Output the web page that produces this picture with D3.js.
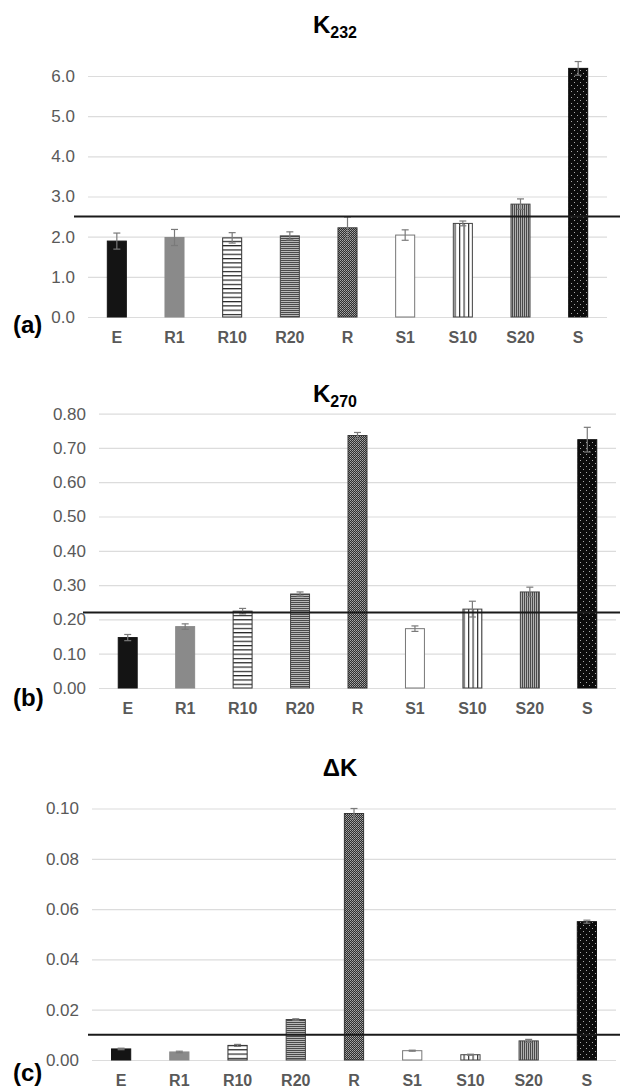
<!DOCTYPE html>
<html>
<head>
<meta charset="utf-8">
<script src="https://cdn.jsdelivr.net/npm/d3@7"></script>
<style>
  body { margin: 0; background: #fff; }
  svg { display: block; font-family: "Liberation Sans", Arial, sans-serif; }
</style>
</head>
<body>
<div id="chart"></div>
<script>
const categories = ["E", "R1", "R10", "R20", "R", "S1", "S10", "S20", "S"];

const k232 = [1.89, 1.98, 1.97, 2.02, 2.22, 2.04, 2.33, 2.81, 6.19];
const k232Err = [0.20, 0.20, 0.13, 0.10, 0.27, 0.13, 0.06, 0.13, 0.17];

const k270 = [0.147, 0.179, 0.224, 0.274, 0.736, 0.173, 0.230, 0.280, 0.724];
const k270Err = [0.009, 0.008, 0.008, 0.006, 0.009, 0.008, 0.023, 0.014, 0.036];

const deltaK = [0.0044, 0.0032, 0.0058, 0.0161, 0.098, 0.0037, 0.0021, 0.0076, 0.055];
const deltaKErr = [0.0003, 0.0003, 0.0004, 0.0003, 0.002, 0.0002, 0.0002, 0.0006, 0.0006];

const k232Ticks = [0, 1, 2, 3, 4, 5, 6];
const k270Ticks = [0, 0.1, 0.2, 0.3, 0.4, 0.5, 0.6, 0.7, 0.8];
const deltaKTicks = [0, 0.02, 0.04, 0.06, 0.08, 0.10];

const limits = [2.5, 0.22, 0.01];

// fill per category (pattern ids defined below)
const fills = ["#141414", "#8a8a8a", "url(#hWide)", "url(#hFine)", "url(#checker)",
    "#ffffff", "url(#vWide)", "url(#vFine)", "url(#dots)"];
const strokes = ["#141414", "#8a8a8a", "#333", "#444", "#333", "#777", "#444", "#444", "#111"];

const svg = d3.select("#chart").append("svg")
    .attr("width", 620)
    .attr("height", 1088);

const defs = svg.append("defs");

const hWide = defs.append("pattern").attr("id", "hWide").attr("patternUnits", "userSpaceOnUse")
    .attr("width", 4).attr("height", 4.3);
hWide.append("rect").attr("width", 4).attr("height", 4.3).attr("fill", "#fff");
hWide.append("rect").attr("y", 0).attr("width", 4).attr("height", 1.2).attr("fill", "#222");

const hFine = defs.append("pattern").attr("id", "hFine").attr("patternUnits", "userSpaceOnUse")
    .attr("width", 4).attr("height", 2);
hFine.append("rect").attr("width", 4).attr("height", 2).attr("fill", "#b8b8b8");
hFine.append("rect").attr("width", 4).attr("height", 1).attr("fill", "#4a4a4a");

const checker = defs.append("pattern").attr("id", "checker").attr("patternUnits", "userSpaceOnUse")
    .attr("width", 2).attr("height", 2);
checker.append("rect").attr("width", 2).attr("height", 2).attr("fill", "#2e2e2e");
checker.append("rect").attr("width", 1).attr("height", 1).attr("fill", "#a8a8a8");
checker.append("rect").attr("x", 1).attr("y", 1).attr("width", 1).attr("height", 1).attr("fill", "#8a8a8a");

const vWide = defs.append("pattern").attr("id", "vWide").attr("patternUnits", "userSpaceOnUse")
    .attr("width", 4.5).attr("height", 4);
vWide.append("rect").attr("width", 4.5).attr("height", 4).attr("fill", "#fff");
vWide.append("rect").attr("width", 1.2).attr("height", 4).attr("fill", "#333");

const vFine = defs.append("pattern").attr("id", "vFine").attr("patternUnits", "userSpaceOnUse")
    .attr("width", 2).attr("height", 4);
vFine.append("rect").attr("width", 2).attr("height", 4).attr("fill", "#b0b0b0");
vFine.append("rect").attr("width", 1).attr("height", 4).attr("fill", "#4a4a4a");

const dots = defs.append("pattern").attr("id", "dots").attr("patternUnits", "userSpaceOnUse")
    .attr("width", 6).attr("height", 6);
dots.append("rect").attr("width", 6).attr("height", 6).attr("fill", "#0c0c0c");
dots.append("rect").attr("x", 1).attr("y", 1).attr("width", 1).attr("height", 1).attr("fill", "#aaa");
dots.append("rect").attr("x", 4).attr("y", 4).attr("width", 1).attr("height", 1).attr("fill", "#aaa");

const panels = [
    { values: k232, errs: k232Err, ticks: k232Ticks, fmt: ".1f", limit: limits[0],
      xRange: [88, 607], yRange: [317, 76], lineStart: 74,
      title: ["K", "232"], titleX: 335, titleY: 33, tag: "(a)", tagY: 333 },
    { values: k270, errs: k270Err, ticks: k270Ticks, fmt: ".2f", limit: limits[1],
      xRange: [99, 616], yRange: [688, 413.6], lineStart: 83,
      title: ["K", "270"], titleX: 335, titleY: 402, tag: "(b)", tagY: 706 },
    { values: deltaK, errs: deltaKErr, ticks: deltaKTicks, fmt: ".2f", limit: limits[2],
      xRange: [92, 616], yRange: [1060, 808.5], lineStart: 88,
      title: ["ΔK", ""], titleX: 340, titleY: 776, tag: "(c)", tagY: 1081 }
];

panels.forEach(p => {
    const g = svg.append("g");
    const data = categories.map((c, i) => ({ cat: c, value: p.values[i], err: p.errs[i], i }));

    const x = d3.scaleBand()
        .domain(categories)
        .range(p.xRange)
        .paddingInner(0.67)
        .paddingOuter(0.335);

    const y = d3.scaleLinear()
        .domain([0, p.ticks[p.ticks.length - 1]])
        .range(p.yRange);

    // gridlines + y labels
    const yAxis = g.append("g")
        .attr("transform", `translate(${p.xRange[0]},0)`)
        .call(d3.axisLeft(y)
            .tickValues(p.ticks)
            .tickFormat(d3.format(p.fmt))
            .tickSize(-(p.xRange[1] - p.xRange[0]))
            .tickPadding(13));
    yAxis.select(".domain").remove();
    yAxis.selectAll("line").attr("stroke", "#dcdcdc").attr("stroke-width", 1.2);
    yAxis.selectAll("text")
        .attr("fill", "#595959")
        .style("font-size", "17px");

    // bars
    g.selectAll(".bar")
        .data(data)
        .enter().append("rect")
        .attr("class", "bar")
        .attr("x", d => x(d.cat))
        .attr("y", d => y(d.value))
        .attr("width", x.bandwidth())
        .attr("height", d => y(0) - y(d.value))
        .attr("fill", d => fills[d.i])
        .attr("stroke", d => strokes[d.i])
        .attr("stroke-width", 1);

    // error bars
    const eb = g.selectAll(".err")
        .data(data)
        .enter().append("g")
        .attr("class", "err")
        .attr("stroke", "#7a7a7a")
        .attr("stroke-width", 1.2);
    eb.append("line")
        .attr("x1", d => x(d.cat) + x.bandwidth() / 2)
        .attr("x2", d => x(d.cat) + x.bandwidth() / 2)
        .attr("y1", d => y(d.value - d.err))
        .attr("y2", d => y(d.value + d.err));
    [-1, 1].forEach(s => {
        eb.append("line")
            .attr("x1", d => x(d.cat) + x.bandwidth() / 2 - 3.5)
            .attr("x2", d => x(d.cat) + x.bandwidth() / 2 + 3.5)
            .attr("y1", d => y(d.value + s * d.err))
            .attr("y2", d => y(d.value + s * d.err));
    });

    // limit line
    g.append("line")
        .attr("x1", p.lineStart)
        .attr("x2", 620)
        .attr("y1", y(p.limit))
        .attr("y2", y(p.limit))
        .attr("stroke", "#1a1a1a")
        .attr("stroke-width", 2);

    // x labels
    const xAxis = g.append("g")
        .attr("transform", `translate(0,${p.yRange[0]})`)
        .call(d3.axisBottom(x).tickSize(0));
    xAxis.select(".domain").remove();
    xAxis.selectAll("text")
        .attr("y", 26)
        .attr("dy", 0)
        .attr("fill", "#595959")
        .style("font-size", "16px")
        .style("font-weight", "bold");

    // title
    const t = g.append("text")
        .attr("x", p.titleX)
        .attr("y", p.titleY)
        .attr("text-anchor", "middle")
        .attr("fill", "#000")
        .style("font-weight", "bold")
        .style("font-size", "24px");
    t.append("tspan").text(p.title[0]);
    if (p.title[1]) {
        t.append("tspan")
            .attr("dy", 5)
            .style("font-size", "16px")
            .text(p.title[1]);
    }

    // panel tag
    g.append("text")
        .attr("x", 13)
        .attr("y", p.tagY)
        .attr("fill", "#000")
        .style("font-weight", "bold")
        .style("font-size", "24px")
        .text(p.tag);
});
</script>
</body>
</html>
